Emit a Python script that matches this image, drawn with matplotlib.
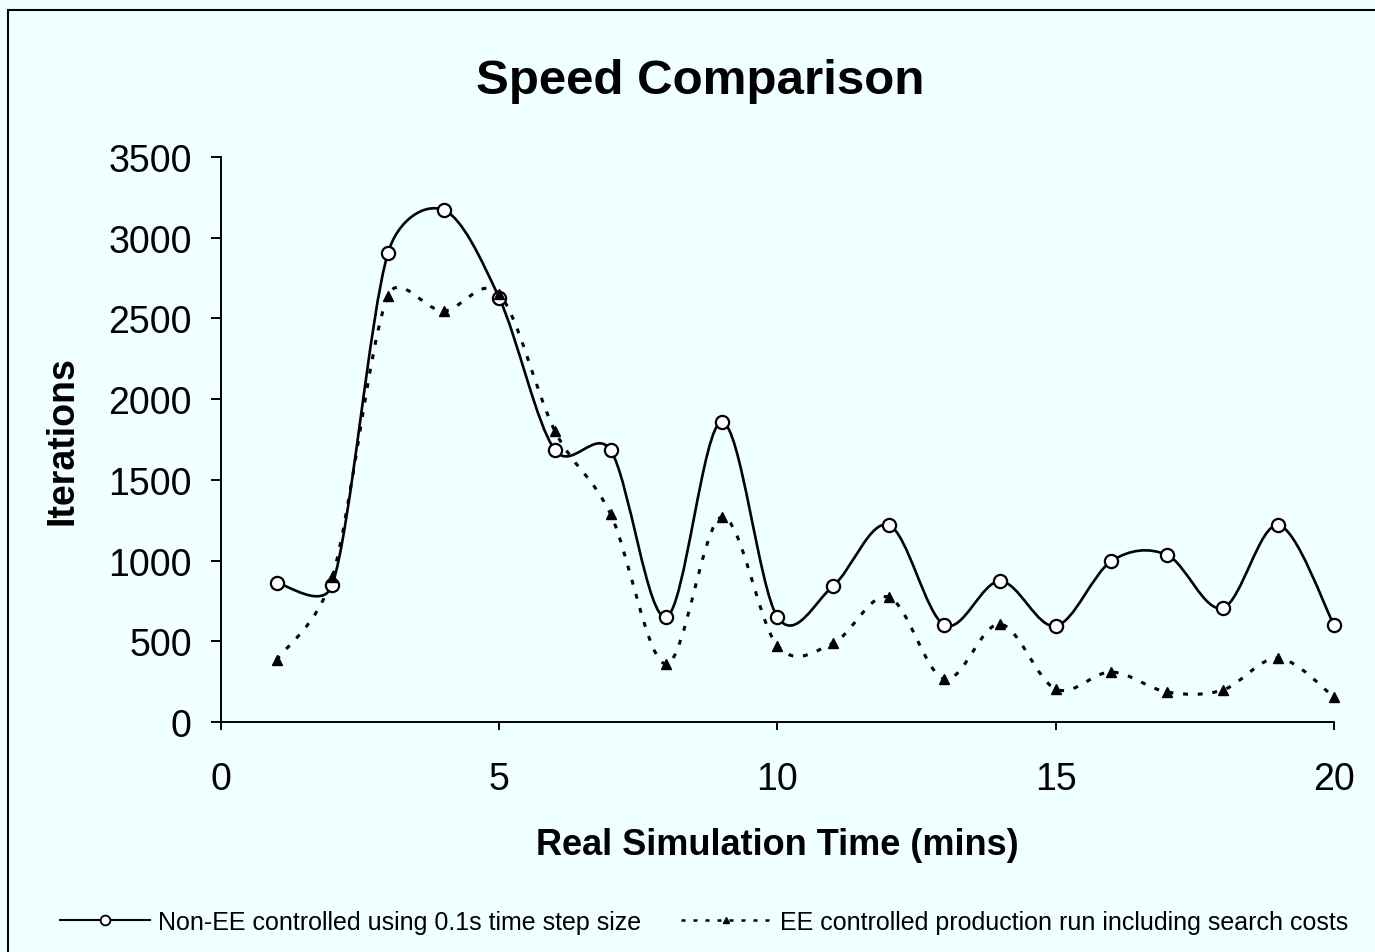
import numpy as np
import matplotlib.pyplot as plt
from matplotlib.path import Path
from matplotlib.patches import PathPatch, Rectangle
from matplotlib.lines import Line2D

# data
minutes = [1, 2, 3, 4, 5, 6, 7, 8, 9, 10, 11, 12, 13, 14, 15, 16, 17, 18, 19, 20]
non_ee = [861, 849, 2905, 3172, 2627, 1685, 1685, 650, 1859, 650,
          843, 1220, 601, 873, 595, 997, 1035, 706, 1220, 601]
ee_ctrl = [384, 898, 2639, 2546, 2651, 1803, 1289, 359, 1270, 471,
           489, 774, 266, 607, 204, 310, 186, 198, 396, 155]

label_1 = "Non-EE controlled using 0.1s time step size"
label_2 = "EE controlled production run including search costs"

BG = "#f0ffff"
plt.rcParams['font.family'] = ['Liberation Sans', 'DejaVu Sans']


def smooth_path(ax, xs, ys):
    # Excel-like smoothing: Catmull-Rom Bezier in screen space,
    # control arm capped at half the segment so it doesn't overshoot much
    p = ax.transData.transform(np.column_stack([xs, ys]).astype(float))
    n = len(p)
    verts = [p[0]]
    codes = [Path.MOVETO]
    for i in range(n - 1):
        a, b = p[i], p[i + 1]
        t0 = b - (p[i - 1] if i > 0 else a)
        t1 = (p[i + 2] if i + 2 < n else b) - a
        seg = np.hypot(*(b - a))
        f0 = min(1 / 6, seg / (2 * np.hypot(*t0)))
        f1 = min(1 / 6, seg / (2 * np.hypot(*t1)))
        c1 = a + t0 * f0
        c2 = b - t1 * f1
        verts += [c1, c2, b]
        codes += [Path.CURVE4] * 3
    verts = ax.transData.inverted().transform(np.array(verts))
    return Path(verts, codes)


fig = plt.figure(figsize=(13.75, 9.53), dpi=100, facecolor=BG)
ax = fig.add_axes([0.1607, 0.2413, 0.8095, 0.5929], facecolor=BG)
ax.set_xlim(0, 20)
ax.set_ylim(0, 3500)

# outer frame
fig.patches.append(Rectangle((8 / 1375, -0.05), 1.1, 1.05 - 11 / 953,
                             transform=fig.transFigure, fill=False,
                             edgecolor="black", linewidth=1.5))

dots = (0, (1.6, 3.2))
ax.add_patch(PathPatch(smooth_path(ax, minutes, non_ee), fill=False,
                       edgecolor="black", linewidth=1.9, zorder=3,
                       clip_on=False))
ax.add_patch(PathPatch(smooth_path(ax, minutes, ee_ctrl), fill=False,
                       edgecolor="black", linewidth=2.2,
                       linestyle=dots, zorder=3, clip_on=False))
ax.plot(minutes, non_ee, linestyle="none", marker="o", markersize=9.5,
        markerfacecolor="white", markeredgecolor="black",
        markeredgewidth=1.6, zorder=4, clip_on=False)
ax.plot(minutes, ee_ctrl, linestyle="none", marker="^", markersize=7,
        color="black", zorder=4, clip_on=False)

ax.set_xticks([0, 5, 10, 15, 20])
ax.set_yticks(np.arange(0, 3501, 500))
for s in ["top", "right"]:
    ax.spines[s].set_visible(False)
for s in ["left", "bottom"]:
    ax.spines[s].set_linewidth(1.4)
ax.tick_params(axis="x", direction="out", length=6, width=1.4,
               labelsize=27, pad=22)
ax.tick_params(axis="y", direction="out", length=7, width=1.4,
               labelsize=27, pad=14)

ax.set_xlabel("Real Simulation Time (mins)", fontsize=26, fontweight="bold",
              labelpad=22)
ax.set_ylabel("Iterations", fontsize=27, fontweight="bold", labelpad=20)
fig.text(0.509, 0.915, "Speed Comparison", ha="center", va="center",
         fontsize=35.5, fontweight="bold")

handles = [
    Line2D([], [], color="black", linewidth=1.5, marker="o", markersize=7,
           markerfacecolor="white", markeredgewidth=1.3),
    Line2D([], [], color="black", linewidth=1.8, linestyle=dots,
           marker="^", markersize=5),
]
fig.legend(handles, [label_1, label_2], loc="center", ncol=2,
           bbox_to_anchor=(0.512, 0.032), frameon=False,
           prop={"size": 18},
           handlelength=3.6, handletextpad=0.35, columnspacing=1.6)

fig.savefig("out.png", dpi=100, facecolor=BG)
